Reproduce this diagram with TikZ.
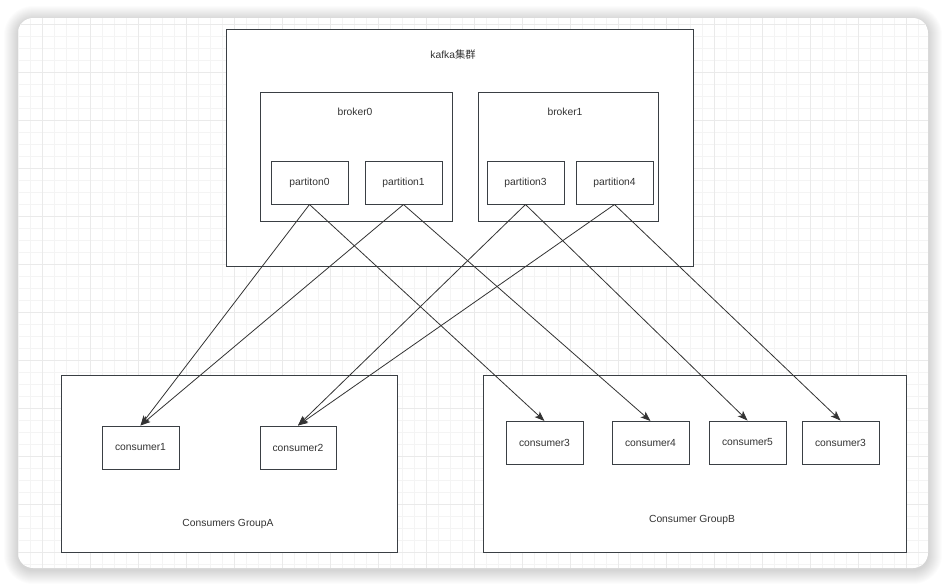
\documentclass[tikz,border=0pt]{standalone}
\usepackage{fontspec}
\setmainfont{Liberation Sans}
\newfontfamily\cjk{Noto Sans CJK SC}
\usetikzlibrary{arrows.meta}
\definecolor{ink}{HTML}{333333}
\definecolor{edge}{HTML}{3A3F44}
\definecolor{gridminor}{HTML}{F4F4F4}
\definecolor{gridmajor}{HTML}{EAEAEA}
\tikzset{
  box/.style={draw=edge, line width=1pt, fill=white, inner sep=0pt, text=ink,
              font=\fontsize{10.3}{12}\selectfont},
  lbl/.style={inner sep=0pt, text=ink, font=\fontsize{10.3}{12}\selectfont},
  arr/.style={draw=ink, line width=0.8pt, -{Stealth[length=10pt,width=7.5pt,inset=2.5pt]}},
}
\begin{document}
\begin{tikzpicture}[x=1pt,y=-1pt]
\useasboundingbox (0,0) rectangle (946,587);
\fill[white] (0,0) rectangle (946,587);
% shadow
\foreach \i in {1,...,14}{
  \fill[black, opacity=0.011, rounded corners={15+\i}] (18-\i,18-\i+2) rectangle (928+\i,568+\i+2);
}
% card
\fill[white, rounded corners=15] (18,18) rectangle (928,568);
\begin{scope}
  \clip[rounded corners=15] (18,18) rectangle (928,568);
  \foreach \x in {18,30,...,930}{ \draw[gridminor, line width=1pt] (\x,18) -- (\x,568); }
  \foreach \y in {24,36,...,570}{ \draw[gridminor, line width=1pt] (18,\y) -- (928,\y); }
  \foreach \x in {42,90,...,930}{ \draw[gridmajor, line width=1pt] (\x,18) -- (\x,568); }
  \foreach \y in {24,72,...,570}{ \draw[gridmajor, line width=1pt] (18,\y) -- (928,\y); }
\end{scope}

% kafka cluster
\node[box, minimum width=467, minimum height=237] (kafka) at (459.5,147.5) {};
\node[lbl] (kafkalbl) at (453,55) {kafka\cjk{集群}};
% brokers
\node[box, minimum width=192, minimum height=129] (b0) at (356,156.5) {};
\node[lbl] (b0lbl) at (355,112) {broker0};
\node[box, minimum width=180, minimum height=129] (b1) at (568,156.5) {};
\node[lbl] (b1lbl) at (565,112) {broker1};
% partitions
\node[box, minimum width=77, minimum height=43] (p0) at (309.5,182.5) {partiton0};
\node[box, minimum width=77, minimum height=43] (p1) at (403.5,182.5) {partition1};
\node[box, minimum width=77, minimum height=43] (p3) at (525.5,182.5) {partition3};
\node[box, minimum width=77, minimum height=43] (p4) at (614.5,182.5) {partition4};
% groups
\node[box, minimum width=336, minimum height=177] (ga) at (229,463.5) {};
\node[lbl] (galbl) at (228,524) {Consumers GroupA};
\node[box, minimum width=423, minimum height=177] (gb) at (694.5,463.5) {};
\node[lbl] (gblbl) at (692,520) {Consumer GroupB};
% consumers
\node[box, minimum width=77, minimum height=43] (c1) at (140.5,447.5) {consumer1};
\node[box, minimum width=76, minimum height=43] (c2) at (298,447.5) {consumer2};
\node[box, minimum width=77, minimum height=43] (c3) at (544.5,443) {consumer3};
\node[box, minimum width=77, minimum height=43] (c4) at (650.5,443) {consumer4};
\node[box, minimum width=77, minimum height=43] (c5) at (747.5,442.5) {consumer5};
\node[box, minimum width=77, minimum height=43] (c6) at (840.5,442.5) {consumer3};
% connectors
\draw[arr] (p0.south) -- (c1.north);
\draw[arr] (p1.south) -- (c1.north);
\draw[arr] (p3.south) -- (c2.north);
\draw[arr] (p4.south) -- (c2.north);
\draw[arr] (p0.south) -- (c3.north);
\draw[arr] (p1.south) -- (c4.north);
\draw[arr] (p3.south) -- (c5.north);
\draw[arr] (p4.south) -- (c6.north);
\end{tikzpicture}
\end{document}
